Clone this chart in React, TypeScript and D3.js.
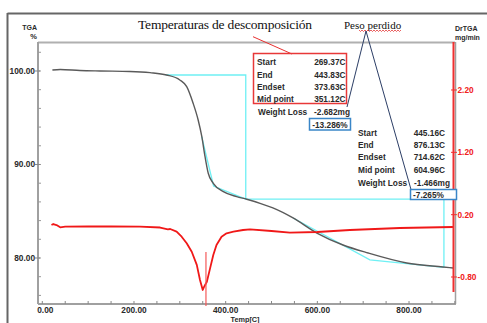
import React from "react";
import * as d3 from "d3";

// TGA curve (temperature °C, weight %)
const tgaTemp = [22, 39, 82, 126, 191, 235, 271, 300, 315, 329, 340, 348, 355, 362, 373, 395, 424, 446, 475, 503, 547, 599, 656, 711, 795, 874, 896];
const tgaValue = [100.1, 100.16, 100.05, 100.0, 99.95, 99.82, 99.57, 99.04, 98.32, 96.55, 94.76, 92.97, 90.83, 89.06, 87.99, 87.09, 86.56, 86.28, 85.85, 85.35, 84.28, 82.67, 81.39, 80.53, 79.47, 79.04, 78.93];

// DrTGA curve (temperature °C, mg/min)
const drTemp = [20, 24, 31, 39, 50, 100, 150, 213, 257, 274, 279, 293, 304, 315, 326, 337, 344, 350, 353, 359, 366, 373, 380, 391, 402, 417, 438, 453, 500, 540, 600, 671, 780, 896];
const drValue = [0.034, 0.05, 0.034, -0.003, 0.007, 0.01, 0.01, 0.007, -0.006, -0.035, -0.03, -0.073, -0.154, -0.259, -0.394, -0.606, -0.847, -1.008, -0.956, -0.876, -0.661, -0.447, -0.287, -0.154, -0.099, -0.073, -0.046, -0.035, -0.062, -0.089, -0.078, -0.046, -0.014, 0.002];
const drPeakTemp = 357;
const drPeakTop = -0.4;

// Step construction (cyan)
const stepTemp = [269.37, 443.83, 443.83, 876.13, 876.13];
const stepValue = [99.57, 99.57, 86.3, 86.3, 79.0];
const tangent1Temp = [347.7, 373.63, 443.83];
const tangent1Value = [92.97, 87.7, 86.3];
const tangent2Temp = [547, 714.62, 876.13];
const tangent2Value = [84.28, 79.8, 79.0];

// Axis ticks
const tempTicks = [0, 200, 400, 600, 800];
const tempMinor = d3.range(0, 901, 50);
const tgaTicks = [100, 90, 80];
const tgaMinor = d3.range(76, 103, 2);
const drTicks = [2.2, 1.2, 0.2, -0.8];

// Annotation texts
const titleText = "Temperaturas de descomposición";
const pesoText = ["Peso ", "perdido"];
const block1Labels = ["Start", "End", "Endset", "Mid point"];
const block1Values = ["269.37C", "443.83C", "373.63C", "351.12C"];
const weightLoss1 = "-2.682mg";
const percent1 = "-13.286%";
const block2Labels = ["Start", "End", "Endset", "Mid point", "Weight Loss"];
const block2Values = ["445.16C", "876.13C", "714.62C", "604.96C", "-1.466mg"];
const percent2 = "-7.265%";

const W = 487;
const H = 323;
const SANS = "'Liberation Sans', Arial, sans-serif";
const SERIF = "'Liberation Serif', 'Times New Roman', serif";
const TXT = "#2a2a2a";

export default function App() {
  const x = d3.scaleLinear().domain([-9.4, 900.3]).range([38, 455]);
  const yT = d3.scaleLinear().domain([75.08, 103.1]).range([304, 42]);
  const yD = d3.scaleLinear().domain([-1.233, 2.97]).range([304, 42]);

  const tgaLine = d3
    .line<number>()
    .x((_, i) => x(tgaTemp[i]))
    .y((v) => yT(v))
    .curve(d3.curveMonotoneX);
  const drLine = d3
    .line<number>()
    .x((_, i) => x(drTemp[i]))
    .y((v) => yD(v))
    .curve(d3.curveLinear);
  const mk = (ts: number[]) =>
    d3
      .line<number>()
      .x((_, i) => x(ts[i]))
      .y((v) => yT(v));

  // wavy (spell-check) underline under "perdido"
  const wavy: [number, number][] = [];
  for (let px = 359, k = 0; px <= 401; px += 1.5, k++) wavy.push([px, k % 2 === 0 ? 30 : 31.5]);
  const wavyPath = d3.line()(wavy);

  const b1Rows = [62, 74.5, 87, 99];
  const b2Rows = [133.3, 145, 157.3, 170, 182.7];

  return (
    <svg
      width={W}
      height={H}
      style={{ position: "absolute", left: 0, top: 0, background: "#fff" }}
    >
      {/* outer frame */}
      <line x1={7.5} y1={13.5} x2={W} y2={13.5} stroke="#666" strokeWidth={2} />
      <line x1={7.5} y1={13} x2={7.5} y2={H} stroke="#666" strokeWidth={2} />

      {/* plot frame */}
      <line x1={38} y1={42.5} x2={455} y2={42.5} stroke="#b0b0b0" strokeWidth={2} />
      <line x1={38} y1={42} x2={38} y2={304} stroke="#a0a0a0" strokeWidth={2} />
      <line x1={38} y1={304} x2={456} y2={304} stroke="#a0a0a0" strokeWidth={2} />
      <line x1={455.5} y1={42} x2={455.5} y2={304} stroke="#a0a0a0" strokeWidth={1.5} />

      {/* left axis ticks */}
      {tgaMinor.map((v) => (
        <line key={"tm" + v} x1={38} x2={41} y1={yT(v)} y2={yT(v)} stroke="#999" strokeWidth={1} />
      ))}
      {tgaTicks.map((v) => (
        <g key={"t" + v}>
          <line x1={35} x2={40} y1={yT(v)} y2={yT(v)} stroke="#888" strokeWidth={1} />
          <text x={35} y={yT(v) + 3} textAnchor="end" fontFamily={SANS} fontWeight="bold" fontSize={8.3} fill={TXT}>
            {v.toFixed(2)}
          </text>
        </g>
      ))}

      {/* bottom axis ticks */}
      {tempMinor.map((t) => (
        <line key={"xm" + t} x1={x(t)} x2={x(t)} y1={304} y2={301} stroke="#888" strokeWidth={1} />
      ))}
      {tempTicks.map((t) => (
        <text key={"x" + t} x={x(t) + (t === 0 ? 3 : 0)} y={312.5} textAnchor="middle" fontFamily={SANS} fontWeight="bold" fontSize={8.3} fill={TXT}>
          {t.toFixed(2)}
        </text>
      ))}
      <text x={245} y={321.5} textAnchor="middle" fontFamily={SANS} fontWeight="bold" fontSize={7.3} fill={TXT}>
        Temp[C]
      </text>

      {/* axis titles */}
      <text x={37} y={30} textAnchor="end" fontFamily={SANS} fontWeight="bold" fontSize={7} fill={TXT}>TGA</text>
      <text x={37} y={39} textAnchor="end" fontFamily={SANS} fontWeight="bold" fontSize={7.5} fill={TXT}>%</text>
      <text x={455} y={31} fontFamily={SANS} fontWeight="bold" fontSize={7} fill={TXT}>DrTGA</text>
      <text x={455} y={40} fontFamily={SANS} fontWeight="bold" fontSize={7} fill={TXT}>mg/min</text>

      {/* cyan construction */}
      <path d={mk(stepTemp)(stepValue) || ""} fill="none" stroke="#6ff0f4" strokeWidth={1.3} />
      <path d={mk(tangent1Temp)(tangent1Value) || ""} fill="none" stroke="#6ff0f4" strokeWidth={1.3} />
      <path d={mk(tangent2Temp)(tangent2Value) || ""} fill="none" stroke="#6ff0f4" strokeWidth={1.3} />

      {/* TGA curve */}
      <path d={tgaLine(tgaValue) || ""} fill="none" stroke="#5a5a5a" strokeWidth={1.4} />

      {/* DrTGA curve */}
      <path d={drLine(drValue) || ""} fill="none" stroke="#f01818" strokeWidth={1.8} strokeLinejoin="round" />
      <line x1={x(drPeakTemp)} x2={x(drPeakTemp)} y1={yD(drPeakTop)} y2={306} stroke="#f45a5a" strokeWidth={1.2} />

      {/* red right axis */}
      <line x1={453.5} y1={42} x2={453.5} y2={292} stroke="#f03030" strokeWidth={2} />
      {drTicks.map((v) => (
        <g key={"d" + v}>
          <line x1={451} x2={457} y1={yD(v)} y2={yD(v)} stroke="#f03030" strokeWidth={1} />
          <text x={457.5} y={yD(v) + 3} fontFamily={SANS} fontWeight="bold" fontSize={8.3} fill="#f02020">
            {v < 0 ? "-" + Math.abs(v).toFixed(2) : v.toFixed(2)}
          </text>
        </g>
      ))}

      {/* title + pointer */}
      <text x={138} y={29} fontFamily={SERIF} fontSize={13.5} fill="#111" textLength={174} lengthAdjust="spacing">
        {titleText}
      </text>
      <line x1={253} y1={36.7} x2={292} y2={54} stroke="#e83030" strokeWidth={1} />

      {/* Peso perdido */}
      <text x={344} y={28.5} fontFamily={SERIF} fontSize={11} fill="#111">
        {pesoText[0] + pesoText[1]}
      </text>
      <path d={wavyPath || ""} fill="none" stroke="#e02020" strokeWidth={0.7} />
      <line x1={366} y1={31} x2={347} y2={107} stroke="#2c3e66" strokeWidth={1} />
      <line x1={366} y1={31} x2={411} y2={189.5} stroke="#2c3e66" strokeWidth={1} />

      {/* block 1 */}
      <rect x={253.5} y={53.5} width={93} height={50} fill="none" stroke="#e83838" strokeWidth={1.5} />
      {block1Labels.map((l, i) => (
        <text key={"b1l" + i} x={257} y={b1Rows[i] + 3} fontFamily={SANS} fontWeight="bold" fontSize={8.3} fill={TXT}>{l}</text>
      ))}
      {block1Values.map((v, i) => (
        <text key={"b1v" + i} x={345.5} y={b1Rows[i] + 3} textAnchor="end" fontFamily={SANS} fontWeight="bold" fontSize={8.3} fill={TXT}>{v}</text>
      ))}
      <text x={258} y={115} fontFamily={SANS} fontWeight="bold" fontSize={8.3} fill={TXT}>Weight Loss</text>
      <text x={350} y={115} textAnchor="end" fontFamily={SANS} fontWeight="bold" fontSize={8.3} fill={TXT}>{weightLoss1}</text>
      <rect x={309.5} y={118.5} width={41} height={11.5} fill="#fff" stroke="#3a86c8" strokeWidth={1.5} />
      <text x={330} y={127.5} textAnchor="middle" fontFamily={SANS} fontWeight="bold" fontSize={8.3} fill={TXT}>{percent1}</text>

      {/* block 2 */}
      {block2Labels.map((l, i) => (
        <text key={"b2l" + i} x={358} y={b2Rows[i] + 3} fontFamily={SANS} fontWeight="bold" fontSize={8.3} fill={TXT}>{l}</text>
      ))}
      {block2Values.map((v, i) => (
        <text key={"b2v" + i} x={i === 4 ? 450 : 445} y={b2Rows[i] + 3} textAnchor="end" fontFamily={SANS} fontWeight="bold" fontSize={8.3} fill={TXT}>{v}</text>
      ))}
      <rect x={410.5} y={189.5} width={46} height={10} fill="#fff" stroke="#3a86c8" strokeWidth={1.5} />
      <text x={413} y={197.5} fontFamily={SANS} fontWeight="bold" fontSize={8.3} fill={TXT}>{percent2}</text>
    </svg>
  );
}
